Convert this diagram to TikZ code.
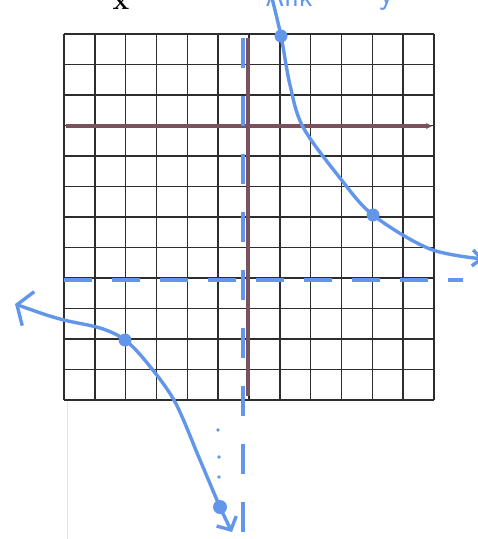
\documentclass[tikz,border=0pt]{standalone}
\usepackage{fontspec}
\usetikzlibrary{arrows.meta}
\definecolor{pen}{RGB}{98,150,235}
\definecolor{axisbrown}{RGB}{122,82,92}
\definecolor{gridc}{RGB}{45,45,45}
\begin{document}
\begin{tikzpicture}[x=1pt,y=-1pt,
  gridline/.style={gridc,line width=1.5},
  axisline/.style={axisbrown,line width=4},
  penline/.style={pen,line width=3.4,line cap=round,line join=round},
  pendash/.style={pen,line width=3.2},
  pendot/.style={fill=pen},
  smalldot/.style={fill=pen}]
\useasboundingbox (0,0) rectangle (478,539);
\clip (0,0) rectangle (478,539);
% paper edge
\draw[black!10,line width=1] (67,400) -- (67,539);
% grid
\foreach \i in {0,...,12} \draw[gridline] ({64+\i*30.83},34) -- ({64+\i*30.83},400);
\foreach \j in {0,...,12} \draw[gridline] (64,{34+\j*30.5}) -- (434,{34+\j*30.5});
% axes
\draw[axisline,-{Stealth[length=6pt,width=6pt]}] (66,126) -- (432,126);
\draw[axisline] (248,38) -- (248,396);
% asymptotes
\draw[pendash,dash pattern=on 30pt off 28pt] (243,38) -- (243,539);
\draw[pendash,dash pattern=on 28pt off 20pt] (64,280) -- (463,280);
% cut-off handwriting
\node[anchor=base,font=\fontsize{28}{30}\selectfont\bfseries] (xlab) at (121,9) {x};
\node[anchor=base west,pen,font=\fontsize{30}{32}\selectfont\sffamily] (ank) at (262,6) {Ank};
\node[anchor=base west,pen,font=\fontsize{34}{36}\selectfont\sffamily] (ylab) at (376,3) {y};
% upper branch
\draw[penline,-{Straight Barb[length=9pt,width=16pt]}] plot[smooth,tension=0.55] coordinates {(271,-6) (281,36) (290,85) (303,127) (340,178) (373,215) (430,249) (484,259)};
% lower branch
\draw[penline,{Straight Barb[length=12pt,width=36pt]}-{Straight Barb[length=10pt,width=22pt]}] plot[smooth,tension=0.55] coordinates {(15,304) (60,319) (100,328) (125,340) (148,364) (175,402) (200,460) (220,507) (232,532)};
% points
\fill[pendot] (281,36) circle (6.5);
\fill[pendot] (373,215) circle (6.5);
\fill[pendot] (125,340) circle (6.5);
\fill[pendot] (220,507) circle (7);
\fill[smalldot] (218,430) circle (1.8);
\fill[smalldot] (219,457) circle (1.8);
\fill[smalldot] (219,477) circle (1.8);
\end{tikzpicture}
\end{document}
